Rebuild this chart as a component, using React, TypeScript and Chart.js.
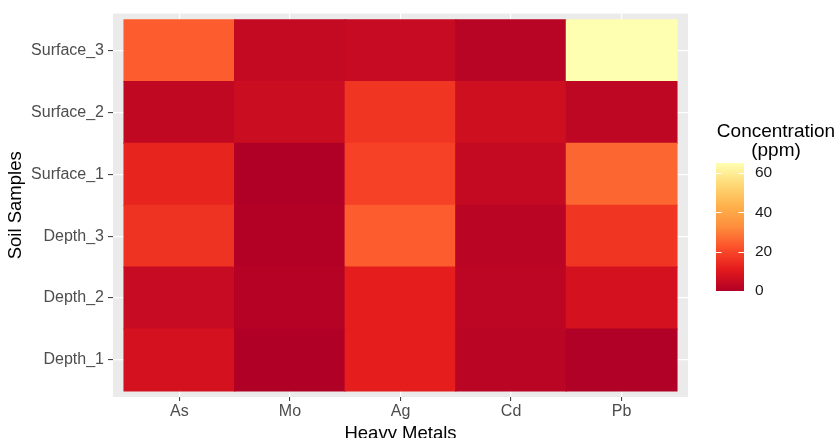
import React, { useEffect, useRef } from 'react';
import { Chart, registerables } from 'chart.js';

Chart.register(...registerables);

// Categories
const metals = ['As', 'Mo', 'Ag', 'Cd', 'Pb'];
const samples = ['Depth_1', 'Depth_2', 'Depth_3', 'Surface_1', 'Surface_2', 'Surface_3'];

// Concentration (ppm) per sample, in the order of `metals`
const depth1 = [7.5, 0, 11.5, 2, 0.3];
const depth2 = [4.5, 1, 11.5, 2.5, 7.6];
const depth3 = [16, 0.5, 24, 2, 16.5];
const surface1 = [13, 0, 19, 4, 26];
const surface2 = [3.2, 5.4, 16.4, 6.3, 2.8];
const surface3 = [24, 4, 4.5, 1.5, 65];
const sampleValues = [depth1, depth2, depth3, surface1, surface2, surface3];

const legendTicks = [0, 20, 40, 60];
const xTitle = 'Heavy Metals';
const yTitle = 'Soil Samples';
const legendTitle = ['Concentration', '(ppm)'];

// YlOrRd (7 classes), low -> high
const palette = ['#B10026', '#E31A1C', '#FC4E2A', '#FD8D3C', '#FEB24C', '#FED976', '#FFFFB2'];

const FONT = "'Liberation Sans', Arial, sans-serif";

function hexToRgb(h: string) {
  const n = parseInt(h.slice(1), 16);
  return [(n >> 16) & 255, (n >> 8) & 255, n & 255];
}

function colorFor(v: number, vmin: number, vmax: number) {
  let t = (v - vmin) / (vmax - vmin);
  t = Math.max(0, Math.min(1, t));
  const seg = t * (palette.length - 1);
  const i = Math.min(palette.length - 2, Math.floor(seg));
  const f = seg - i;
  const a = hexToRgb(palette[i]);
  const b = hexToRgb(palette[i + 1]);
  const c = a.map((x, k) => Math.round(x + (b[k] - x) * f));
  return `rgb(${c[0]},${c[1]},${c[2]})`;
}

export default function App() {
  const ref = useRef<HTMLCanvasElement | null>(null);

  useEffect(() => {
    document.body.style.margin = '0';
    const all = sampleValues.flat();
    const vmin = Math.min(...all);
    const vmax = Math.max(...all);

    const datasets = sampleValues.map((row, r) => ({
      label: samples[r],
      data: row.map((_, c) => ({ x: c, y: [r - 0.5, r + 0.5] })),
      backgroundColor: row.map((v) => colorFor(v, vmin, vmax)),
      borderWidth: 0,
      grouped: false,
      barPercentage: 1,
      categoryPercentage: 1,
      inflateAmount: 0.6,
    }));

    const panelBg = {
      id: 'panelBg',
      beforeDraw(chart: any) {
        const { ctx, chartArea: a } = chart;
        ctx.save();
        ctx.fillStyle = '#EBEBEB';
        ctx.fillRect(a.left, a.top, a.right - a.left, a.bottom - a.top);
        ctx.restore();
      },
    };

    const colorbar = {
      id: 'colorbar',
      afterDraw(chart: any) {
        const ctx = chart.ctx as CanvasRenderingContext2D;
        const x0 = 716;
        const w = 28;
        const top = 163;
        const bottom = 291;
        const yFor = (v: number) => bottom - ((v - vmin) / (vmax - vmin)) * (bottom - top);
        ctx.save();
        const g = ctx.createLinearGradient(0, bottom, 0, top);
        palette.forEach((c, i) => g.addColorStop(i / (palette.length - 1), c));
        ctx.fillStyle = g;
        ctx.fillRect(x0, top, w, bottom - top);
        ctx.strokeStyle = '#FFFFFF';
        ctx.lineWidth = 1;
        ctx.font = `15.5px ${FONT}`;
        ctx.fillStyle = '#1A1A1A';
        ctx.textAlign = 'left';
        ctx.textBaseline = 'middle';
        legendTicks.forEach((t) => {
          const y = Math.round(yFor(t)) + 0.5;
          ctx.beginPath();
          ctx.moveTo(x0, y);
          ctx.lineTo(x0 + w / 5, y);
          ctx.moveTo(x0 + w - w / 5, y);
          ctx.lineTo(x0 + w, y);
          ctx.stroke();
          ctx.fillText(String(t), x0 + w + 11, yFor(t));
        });
        ctx.font = `19px ${FONT}`;
        ctx.fillStyle = '#000000';
        ctx.textAlign = 'center';
        ctx.fillText(legendTitle[0], 776, 132);
        ctx.fillText(legendTitle[1], 776, 151);
        ctx.restore();
      },
    };

    const chart = new Chart(ref.current as HTMLCanvasElement, {
      type: 'bar',
      data: { datasets: datasets as any },
      options: {
        animation: false,
        responsive: false,
        maintainAspectRatio: false,
        layout: { padding: { top: 13, right: 150, bottom: 0, left: 0 } },
        plugins: { legend: { display: false }, tooltip: { enabled: false } },
        scales: {
          x: {
            type: 'linear',
            offset: false,
            min: -0.6,
            max: metals.length - 0.4,
            afterBuildTicks: (axis: any) => {
              axis.ticks = metals.map((_, i) => ({ value: i }));
            },
            afterFit: (scale: any) => {
              scale.height = 41;
            },
            ticks: {
              callback: (v: any) => metals[v as number] ?? '',
              color: '#4D4D4D',
              font: { family: FONT, size: 16 },
              padding: 1,
              maxRotation: 0,
              autoSkip: false,
            },
            grid: {
              offset: false,
              color: '#FFFFFF',
              lineWidth: 1.2,
              tickColor: '#333333',
              tickWidth: 1,
              tickLength: 4,
            },
            border: { display: false },
            title: {
              display: true,
              text: xTitle,
              color: '#000000',
              font: { family: FONT, size: 18.5 },
              padding: { top: 0, bottom: -7 },
            },
          },
          y: {
            type: 'linear',
            offset: false,
            min: -0.6,
            max: samples.length - 0.4,
            afterBuildTicks: (axis: any) => {
              axis.ticks = samples.map((_, i) => ({ value: i }));
            },
            afterFit: (scale: any) => {
              scale.width = 113;
            },
            ticks: {
              callback: (v: any) => samples[v as number] ?? '',
              color: '#4D4D4D',
              font: { family: FONT, size: 16 },
              padding: 4,
              autoSkip: false,
            },
            grid: {
              offset: false,
              color: '#FFFFFF',
              lineWidth: 1.2,
              tickColor: '#333333',
              tickWidth: 1,
              tickLength: 5,
            },
            border: { display: false },
            title: {
              display: true,
              text: yTitle,
              color: '#000000',
              font: { family: FONT, size: 18.5 },
              padding: { top: 5, bottom: 0 },
            },
          },
        },
      },
      plugins: [panelBg, colorbar],
    } as any);

    return () => chart.destroy();
  }, []);

  return (
    <div style={{ width: 838, height: 438 }}>
      <canvas ref={ref} width={838} height={438} style={{ display: 'block' }} />
    </div>
  );
}
